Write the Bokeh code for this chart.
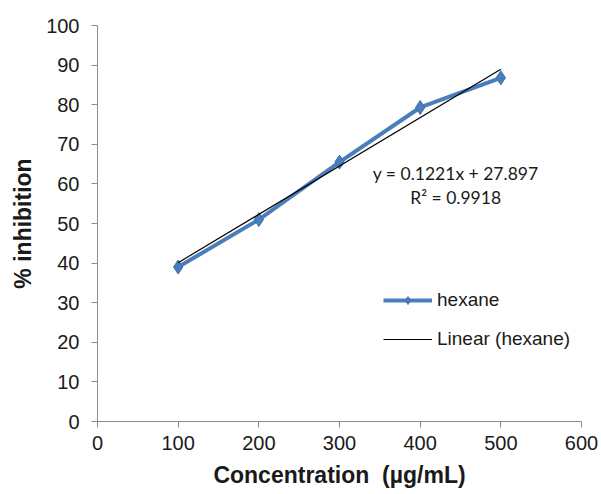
from bokeh.plotting import figure
from bokeh.models import Range1d, FixedTicker, Legend, LegendItem, Label
from bokeh.embed import file_html
from bokeh.resources import INLINE

# Hexane extract: inhibition at each concentration
concentration = [100, 200, 300, 400, 500]
inhibition = [39.0, 51.0, 65.5, 79.3, 86.8]

# Linear trend line coefficients
slope = 0.1221
intercept = 27.897
r_squared = 0.9918

x_ticks = [0, 100, 200, 300, 400, 500, 600]
y_ticks = [0, 10, 20, 30, 40, 50, 60, 70, 80, 90, 100]

BLUE = "#4a7ebb"
AXIS_GREY = "#8c8c8c"
TEXT = "#1a1a1a"
FONT = "Liberation Sans"

p = figure(
    frame_width=484, frame_height=396,
    min_border_left=97, min_border_right=20,
    min_border_top=25, min_border_bottom=73,
    x_range=Range1d(0, 600), y_range=Range1d(0, 100),
    output_backend="svg", toolbar_location=None,
    background_fill_color="white", border_fill_color="white",
)
p.outline_line_color = None
p.grid.grid_line_color = None

p.xaxis.ticker = FixedTicker(ticks=x_ticks)
p.yaxis.ticker = FixedTicker(ticks=y_ticks)
for ax in (p.xaxis[0], p.yaxis[0]):
    ax.axis_line_color = AXIS_GREY
    ax.major_tick_line_color = AXIS_GREY
    ax.major_tick_out = 6
    ax.major_tick_in = 0
    ax.minor_tick_line_color = None
    ax.major_label_text_font = FONT
    ax.major_label_text_font_size = "20px"
    ax.major_label_text_color = TEXT
    ax.axis_label_text_font = FONT
    ax.axis_label_text_font_style = "bold"
    ax.axis_label_text_font_size = "23px"
    ax.axis_label_text_color = TEXT

p.xaxis.axis_label = "Concentration\u00a0\u00a0(µg/mL)"
p.yaxis.axis_label = "% inhibition"
p.xaxis.major_label_standoff = 8
p.yaxis.major_label_standoff = 12
p.xaxis.axis_label_standoff = 9
p.yaxis.axis_label_standoff = 7

# data series
line_r = p.line(concentration, inhibition, line_color=BLUE, line_width=4)
mark_r = p.scatter(concentration, inhibition, marker="diamond", size=14,
                   fill_color=BLUE, line_color="#3f6fa8")

# trend line from the fitted equation
trend_x = [concentration[0], concentration[-1]]
trend_y = [slope * v + intercept for v in trend_x]
trend_r = p.line(trend_x, trend_y, line_color="black", line_width=1.2)

# equation text
eq_font = "Lato"
p.add_layout(Label(x=444, y=62.6, text=f"y = {slope}x + {intercept}",
                   text_align="center", text_baseline="middle",
                   text_font=eq_font, text_font_size="17.5px", text_color=TEXT))
p.add_layout(Label(x=444, y=56.5, text=f"R² = {r_squared}",
                   text_align="center", text_baseline="middle",
                   text_font=eq_font, text_font_size="17.5px", text_color=TEXT))

legend = Legend(
    items=[LegendItem(label="hexane", renderers=[line_r, mark_r]),
           LegendItem(label="Linear (hexane)", renderers=[trend_r])],
    location=(286, 71), orientation="vertical",
    padding=0, margin=0, spacing=17,
    glyph_width=49, glyph_height=20, label_height=20,
    label_standoff=5,
    label_text_font=FONT, label_text_font_size="19px",
    label_text_color=TEXT, label_text_baseline="middle",
    border_line_color=None, background_fill_alpha=0,
)
p.add_layout(legend)

open("out.html", "w").write(file_html(p, INLINE))
